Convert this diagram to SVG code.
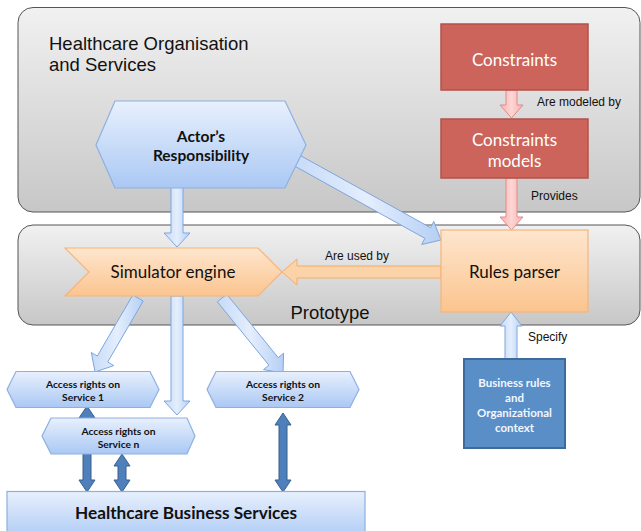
<svg xmlns="http://www.w3.org/2000/svg" width="641" height="531" viewBox="0 0 641 531">
<defs>
<linearGradient id="gCont" x1="0" y1="0" x2="0" y2="1"><stop offset="0" stop-color="#f1f1f1"/><stop offset="1" stop-color="#c7c7c7"/></linearGradient>
<linearGradient id="gBlue" x1="0" y1="0" x2="0" y2="1"><stop offset="0" stop-color="#e8f0fd"/><stop offset="1" stop-color="#aac8f4"/></linearGradient>
<linearGradient id="gBlueArr" x1="0" y1="0" x2="1" y2="0"><stop offset="0" stop-color="#c6daf8"/><stop offset="0.5" stop-color="#e4eefd"/><stop offset="1" stop-color="#b5cff5"/></linearGradient>
<linearGradient id="gOrange" x1="0" y1="0" x2="0" y2="1"><stop offset="0" stop-color="#fee6ce"/><stop offset="1" stop-color="#fbc48e"/></linearGradient>
<linearGradient id="gPink" x1="0" y1="0" x2="1" y2="0"><stop offset="0" stop-color="#f7b0b0"/><stop offset="0.5" stop-color="#fdd6d6"/><stop offset="1" stop-color="#f7b0b0"/></linearGradient>
<style>
.cont{fill:url(#gCont);stroke:#555;stroke-width:1}
.red{fill:#cc645b;stroke:#b4524a;stroke-width:1.5}
.orange{fill:url(#gOrange);stroke:#f5b57a;stroke-width:1.2}
.blue{fill:url(#gBlue);stroke:#8db0e0;stroke-width:1.2}
.dark{fill:#5a8ec6;stroke:#3e6b9c;stroke-width:2}
.arrB{fill:url(#gBlueArr);stroke:#7ea6dc;stroke-width:1}
.arrP{fill:url(#gPink);stroke:#e48b8b;stroke-width:1}
.arrO{fill:#fcd3a9;stroke:#f3ad6a;stroke-width:1}
.arrD{fill:#4f80bb;stroke:#36608f;stroke-width:1}
.big{font-family:"Liberation Sans",Arial,sans-serif;font-size:18.5px;fill:#111}
.lbl{font-family:"Liberation Sans",Arial,sans-serif;font-size:12px;fill:#111}
.nt{font-family:Lato,"Open Sans",sans-serif;font-size:17px;text-anchor:middle}
.nb{font-family:Lato,"Open Sans",sans-serif;font-weight:bold;text-anchor:middle;fill:#111}
.acc{font-size:10.3px}
.wt{fill:#f2f6ff;font-size:11.5px}
</style>
</defs>

<g id="containers">
<rect id="org" class="cont" x="18" y="7.5" width="622" height="204.5" rx="15"/>
<text class="big" x="49" y="50">Healthcare Organisation</text>
<text class="big" x="49" y="71">and Services</text>
<rect id="prototype" class="cont" x="18" y="225" width="622" height="100" rx="15"/>
<text class="big" x="330" y="319" text-anchor="middle">Prototype</text>
</g>

<g id="connectors">
<polygon class="arrB" points="171,186 183,186 183,233 190,233 177,247 164,233 171,233"/>
<polygon class="arrB" points="293.2,165.3 424.9,238.3 421.7,244.5 441,240 433.8,221.5 430.6,227.7 298.8,154.7"/>
<polygon class="arrB" points="132.8,295 97.3,356 91.3,352.5 95,372 113.8,365.6 107.7,362 143.2,301"/>
<polygon class="arrB" points="171,296 183,296 183,401 190,401 177,415 164,401 171,401"/>
<polygon class="arrB" points="217.3,301.8 268.9,365.2 263.5,369.6 283,373 283.6,353.2 278.2,357.6 226.7,294.2"/>
<polygon class="arrB" points="505,360 517,360 517,326 522,326 511,312 500,326 505,326"/>
<polygon class="arrP" points="506,90 517,90 517,105 523,105 511.5,118 500,105 506,105"/>
<polygon class="arrP" points="506,178 517,178 517,217 523,217 511.5,230 500,217 506,217"/>
<polygon class="arrO" points="441,266 297,266 297,259 282,272 297,285 297,278 441,278"/>
<polygon class="arrD" points="87,406 95,418 91,418 91,480 95,480 87,492 79,480 83,480 83,418 79,418"/>
<polygon class="arrD" points="122,454 130,466 126,466 126,480 130,480 122,492 114,480 118,480 118,466 114,466"/>
<polygon class="arrD" points="283,413 291,425 287,425 287,480 291,480 283,492 275,480 279,480 279,425 275,425"/>
<text class="lbl" x="537" y="106">Are modeled by</text>
<text class="lbl" x="531" y="200">Provides</text>
<text class="lbl" x="325" y="260">Are used by</text>
<text class="lbl" x="528" y="341">Specify</text>
</g>

<g id="constraints">
<rect class="red" x="441" y="24" width="147" height="66"/>
<text class="nt" x="514.5" y="66" fill="#fff">Constraints</text>
</g>
<g id="constraints-models">
<rect class="red" x="441" y="119" width="147" height="59"/>
<text class="nt" x="514.5" y="146" fill="#fff">Constraints</text>
<text class="nt" x="514.5" y="167" fill="#fff">models</text>
</g>
<g id="actors-responsibility">
<polygon class="blue" points="96,145 115,101 285,101 306,145 285,188 115,188"/>
<text class="nb" x="201" y="142" font-size="15.5px">Actor’s</text>
<text class="nb" x="201" y="161" font-size="15.5px">Responsibility</text>
</g>
<g id="simulator-engine">
<polygon class="orange" points="65,248 258,248 282,272 258,296 65,296 89,272"/>
<text class="nt" x="173" y="278" fill="#111">Simulator engine</text>
</g>
<g id="rules-parser">
<rect class="orange" x="441" y="230" width="147" height="82"/>
<text class="nt" x="514.5" y="278" fill="#111" font-size="15.5px">Rules parser</text>
</g>
<g id="service-1">
<polygon class="blue" points="7,389.5 16,371.5 150,371.5 159,389.5 150,407.5 16,407.5"/>
<text class="nb acc" x="83" y="388">Access rights on</text>
<text class="nb acc" x="83" y="401">Service 1</text>
</g>
<g id="service-2">
<polygon class="blue" points="207,389.5 216,371.5 350,371.5 359,389.5 350,407.5 216,407.5"/>
<text class="nb acc" x="283" y="388">Access rights on</text>
<text class="nb acc" x="283" y="401">Service 2</text>
</g>
<g id="service-n">
<polygon class="blue" points="42,436 51,418 187,418 195,436 187,454 51,454"/>
<text class="nb acc" x="118.5" y="435">Access rights on</text>
<text class="nb acc" x="118.5" y="448">Service n</text>
</g>
<g id="business-services">
<rect class="blue" x="7" y="491.5" width="358" height="50"/>
<text class="nb" x="186" y="519" font-size="17.2px">Healthcare Business Services</text>
</g>
<g id="business-rules">
<rect class="dark" x="464" y="359" width="101" height="89"/>
<text class="nb wt" x="514.5" y="387">Business rules</text>
<text class="nb wt" x="514.5" y="402">and</text>
<text class="nb wt" x="514.5" y="417">Organizational</text>
<text class="nb wt" x="514.5" y="432">context</text>
</g>
</svg>
